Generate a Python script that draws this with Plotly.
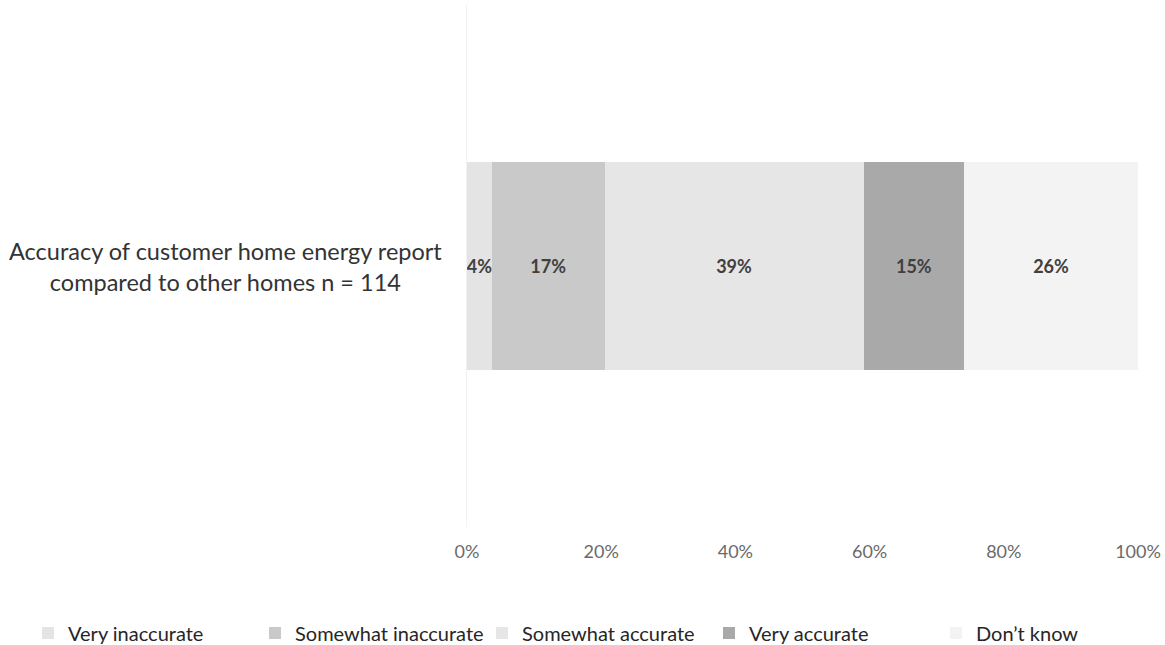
import plotly.graph_objects as go

# Survey result: one stacked horizontal bar, shares in percent
category = "Accuracy of customer home energy report<br>compared to other homes n = 114"
responses = ["Very inaccurate", "Somewhat inaccurate", "Somewhat accurate", "Very accurate", "Don\u2019t know"]
shares = [3.7, 16.8, 38.6, 15.0, 25.9]
colors = ["#e4e4e4", "#c9c9c9", "#e6e6e6", "#a9a9a9", "#f3f3f3"]
tick_vals = [0, 20, 40, 60, 80, 100]
tick_text = ["0%", "20%", "40%", "60%", "80%", "100%"]

FONT = "Lato, Open Sans, sans-serif"
W, H = 1165, 645
L, R, T, B = 40, 27, 5, 118
PW, PH = W - L - R, H - T - B

fig = go.Figure()
for name, val, col in zip(responses, shares, colors):
    fig.add_trace(go.Bar(
        y=[category], x=[val], name=name, orientation="h",
        marker=dict(color=col, line=dict(width=0)),
        text=[val], texttemplate="%{x:.0f}%", textangle=0,
        textposition="inside", insidetextanchor="middle", constraintext="none",
        textfont=dict(family=FONT, size=18, color="#404040", weight="bold"),
        hoverinfo="skip",
    ))

# category label, centred lines, right edge just left of the bar
fig.add_annotation(
    xref="x domain", yref="y", x=0, y=category, xanchor="right", xshift=-23,
    text=category, showarrow=False, align="center",
    font=dict(family=FONT, size=23.5, color="#333333"),
)

fig.update_layout(
    width=W, height=H,
    barmode="stack", bargap=0.6,
    plot_bgcolor="white", paper_bgcolor="white",
    margin=dict(l=L, r=R, t=T, b=B, autoexpand=False),
    xaxis=dict(domain=[(467 - L) / PW, 1.0], range=[0, 100],
               tickvals=tick_vals, ticktext=tick_text,
               showgrid=False, zeroline=False, showline=False,
               ticks="outside", ticklen=8, tickcolor="white",
               tickfont=dict(family=FONT, size=18, color="#6a6a6a")),
    yaxis=dict(anchor="x", showticklabels=False, showgrid=False, zeroline=False,
               showline=True, linecolor="#f2f2f2", linewidth=1),
    legend=dict(orientation="h", x=(28 - L) / PW, xanchor="left",
                y=(H - B - 633) / PH, yanchor="middle",
                entrywidth=182, traceorder="normal",
                font=dict(family=FONT, size=20, color="#262626")),
    showlegend=True,
)

fig.write_html("out.html")
